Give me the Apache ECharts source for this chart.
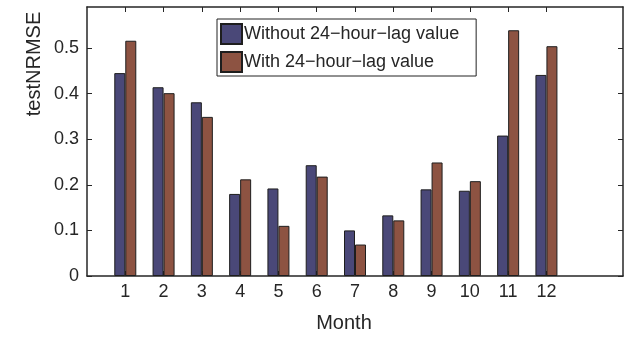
<!DOCTYPE html>
<html>
<head>
<meta charset="utf-8">
<script src="https://cdn.jsdelivr.net/npm/echarts@6/dist/echarts.min.js"></script>
<style>
html,body{margin:0;padding:0;background:#fff;}
#chart{width:627px;height:338px;}
</style>
</head>
<body>
<div id="chart"></div>
<script>
const months = [1, 2, 3, 4, 5, 6, 7, 8, 9, 10, 11, 12];
const withoutLag = [0.445, 0.414, 0.381, 0.180, 0.192, 0.243, 0.100, 0.133, 0.190, 0.187, 0.308, 0.441];
const withLag = [0.516, 0.401, 0.349, 0.212, 0.110, 0.218, 0.069, 0.122, 0.249, 0.208, 0.539, 0.504];
const yTicks = [0, 0.1, 0.2, 0.3, 0.4, 0.5];
const seriesNames = ['Without 24\u2212hour\u2212lag value', 'With 24\u2212hour\u2212lag value'];
const xTitle = 'Month';
const yTitle = 'testNRMSE';

const FONT = 'Liberation Sans, Arial, Helvetica, sans-serif';
const TXT = '#262626';
const AX = '#262626';

const chart = echarts.init(document.getElementById('chart'), null, {renderer: 'canvas'});

const xBase = {
  type: 'value', min: 0, max: 14, interval: 1,
  axisLine: {show: true, onZero: false, lineStyle: {color: AX, width: 1.5}},
  splitLine: {show: false},
  axisTick: {show: true, inside: true, length: 5, customValues: months, lineStyle: {color: AX, width: 1}}
};
const yBase = {
  type: 'value', min: 0, max: 0.59, interval: 0.1,
  axisLine: {show: true, onZero: false, lineStyle: {color: AX, width: 1.5}},
  splitLine: {show: false},
  axisTick: {show: true, inside: true, length: 5, customValues: yTicks, lineStyle: {color: AX, width: 1}}
};

chart.setOption({
  animation: false,
  backgroundColor: '#fff',
  grid: {left: 87, right: 4, top: 7, bottom: 62, containLabel: false},
  legend: {
    orient: 'vertical', left: 217, top: 19,
    data: seriesNames,
    icon: 'rect', itemWidth: 21, itemHeight: 20, itemGap: 6,
    padding: [4, 17, 3, 3],
    backgroundColor: '#fff', borderColor: '#222', borderWidth: 1,
    textStyle: {fontFamily: FONT, fontSize: 18, color: TXT, padding: [0, 0, 0, -3]},
    selectedMode: false
  },
  xAxis: [
    Object.assign({}, xBase, {
      position: 'bottom',
      axisLabel: {show: true, customValues: months, margin: 7, fontFamily: FONT, fontSize: 18, color: TXT}
    }),
    Object.assign({}, xBase, {position: 'top', axisLabel: {show: false}})
  ],
  yAxis: [
    Object.assign({}, yBase, {
      position: 'left',
      axisLabel: {show: true, customValues: yTicks, margin: 8, fontFamily: FONT, fontSize: 18, color: TXT,
        formatter: v => (v === 0 ? '0' : v.toFixed(1))}
    }),
    Object.assign({}, yBase, {position: 'right', axisLabel: {show: false}})
  ],
  graphic: [
    {type: 'text', x: 34, y: 64, rotation: Math.PI / 2,
     style: {text: yTitle, fontFamily: FONT, fontSize: 20, fill: TXT, align: 'center', verticalAlign: 'middle'}},
    {type: 'text', x: 344, y: 323,
     style: {text: xTitle, fontFamily: FONT, fontSize: 20, fill: TXT, align: 'center', verticalAlign: 'middle'}}
  ],
  series: [
    {
      name: seriesNames[0], type: 'bar', barWidth: 11, barGap: '0%',
      itemStyle: {color: '#4a4878', borderColor: '#1e1e1e', borderWidth: 1},
      data: months.map((m, i) => [m, withoutLag[i]])
    },
    {
      name: seriesNames[1], type: 'bar', barWidth: 11, barGap: '0%',
      itemStyle: {color: '#8d5342', borderColor: '#1e1e1e', borderWidth: 1},
      data: months.map((m, i) => [m, withLag[i]])
    }
  ]
});
</script>
</body>
</html>
